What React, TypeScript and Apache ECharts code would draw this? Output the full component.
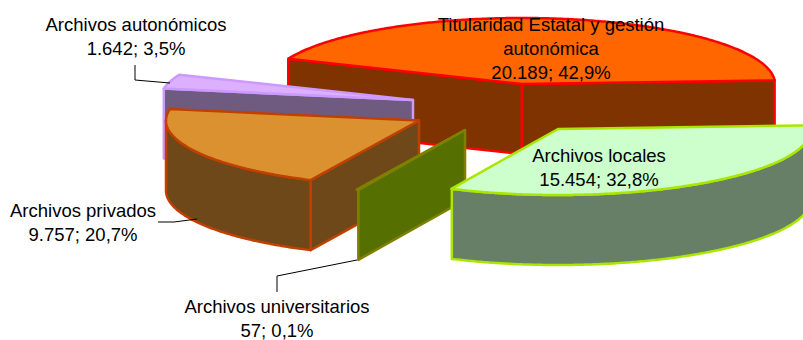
import React, { useEffect, useRef } from "react";
import * as echarts from "echarts";

const categories = [
  "Titularidad Estatal y gestión\nautonómica",
  "Archivos locales",
  "Archivos universitarios",
  "Archivos privados",
  "Archivos autonómicos",
];
const values = [20189, 15454, 57, 9757, 1642];

const W = 803;
const H = 340;
const FIRST_ANGLE = 157.5;
const RX = 253;
const RY = 66;
const DEPTH = 70;
const LINE_STEP = 24;
const drawOrder = [0, 4, 3, 2, 1];
const sliceCentres = [[522, 84], [558, 129], [465, 130], [419, 120.5], [413, 100]];
const topColors = ["#FF6600", "#CCFFCC", "#557000", "#DB9130", "#DDB0FF"];
const sideColors = ["#7F3300", "#667F66", "#557000", "#6E4819", "#6F5A80"];
const strokeColors = ["#FF0000", "#AAE600", "#808000", "#C04000", "#CC99FF"];
const labelCentres = [[551, 24], [599, 155], [277, 306.5], [83, 210], [136, 24]];
const leaders = [
  null,
  null,
  [[277, 292], [277, 276], [357, 260]],
  [[158, 222], [174, 222], [197, 219]],
  [[135, 65], [135, 80], [170, 83]],
];

const total = values.reduce((a, b) => a + b, 0);
const angles: number[][] = [];
values.reduce((start, v, i) => {
  const end = start - (v / total) * 360;
  angles[i] = [start, end];
  return end;
}, FIRST_ANGLE);

const fmtValue = (v: number) => String(v).replace(/\B(?=(\d{3})+$)/g, ".");
const fmtPct = (v: number) => ((v / total) * 100).toFixed(1).replace(".", ",") + "%";
const rad = (d: number) => (d * Math.PI) / 180;

function renderSlice(_: any, api: any) {
  const i = api.value(0);
  const [a0, a1] = angles[i];
  const [cx, cy] = sliceCentres[i];
  const pt = (t: number, dz = 0) => api.coord([cx + RX * Math.cos(rad(t)), cy - RY * Math.sin(rad(t)) + dz]);
  const centre = (dz = 0) => api.coord([cx, cy + dz]);
  const line = { stroke: strokeColors[i], lineWidth: 2.5, lineJoin: "round" };
  const children: any[] = [];
  const face = (points: number[][], fill: string) =>
    children.push({ type: "polygon", shape: { points }, style: { fill, ...line } });

  if (Math.cos(rad(a0)) < 0) face([pt(a0), centre(), centre(DEPTH), pt(a0, DEPTH)], sideColors[i]);
  if (Math.cos(rad(a1)) > 0) face([pt(a1), centre(), centre(DEPTH), pt(a1, DEPTH)], sideColors[i]);

  const front: number[] = [];
  for (let t = a0; t >= a1; t -= 0.5) if (Math.sin(rad(t)) < 0) front.push(t);
  if (front.length > 1) {
    face([...front.map((t) => pt(t)), ...[...front].reverse().map((t) => pt(t, DEPTH))], sideColors[i]);
  }

  const arc: number[][] = [];
  for (let t = a0; t > a1; t -= 0.5) arc.push(pt(t));
  arc.push(pt(a1));
  face([centre(), ...arc], topColors[i]);
  return { type: "group", children };
}

function renderLabel(_: any, api: any) {
  const i = api.value(0);
  const children: any[] = [];
  const lead = leaders[i];
  if (lead) {
    children.push({
      type: "polyline",
      shape: { points: lead.map((p) => api.coord(p)) },
      style: { stroke: "#000000", lineWidth: 1, fill: "none" },
    });
  }
  const lines = [...categories[i].split("\n"), `${fmtValue(values[i])}; ${fmtPct(values[i])}`];
  const [lx, ly] = labelCentres[i];
  lines.forEach((text, k) => {
    const p = api.coord([lx, ly + k * LINE_STEP]);
    children.push({
      type: "text",
      x: p[0],
      y: p[1],
      style: {
        text,
        fill: "#000000",
        font: "18.5px 'Liberation Sans', Arial, sans-serif",
        align: "center",
        verticalAlign: "middle",
      },
    });
  });
  return { type: "group", children };
}

export default function App() {
  const ref = useRef<HTMLDivElement>(null);
  useEffect(() => {
    const chart = echarts.init(ref.current!, null, { renderer: "svg" });
    const axisOff = { type: "value", show: false };
    chart.setOption({
      animation: false,
      backgroundColor: "#FFFFFF",
      grid: { left: 0, right: 0, top: 0, bottom: 0 },
      xAxis: { ...axisOff, min: 0, max: W },
      yAxis: { ...axisOff, min: 0, max: H, inverse: true },
      series: [
        {
          type: "custom",
          coordinateSystem: "cartesian2d",
          renderItem: renderSlice,
          data: drawOrder.map((i) => [i, values[i]]),
          clip: false,
          silent: true,
          z: 2,
        },
        {
          type: "custom",
          coordinateSystem: "cartesian2d",
          renderItem: renderLabel,
          data: values.map((v, i) => [i, v]),
          clip: false,
          silent: true,
          z: 3,
        },
      ],
    });
    return () => chart.dispose();
  }, []);
  return <div ref={ref} style={{ position: "absolute", left: 0, top: 0, width: W, height: H, overflow: "hidden" }} />;
}
